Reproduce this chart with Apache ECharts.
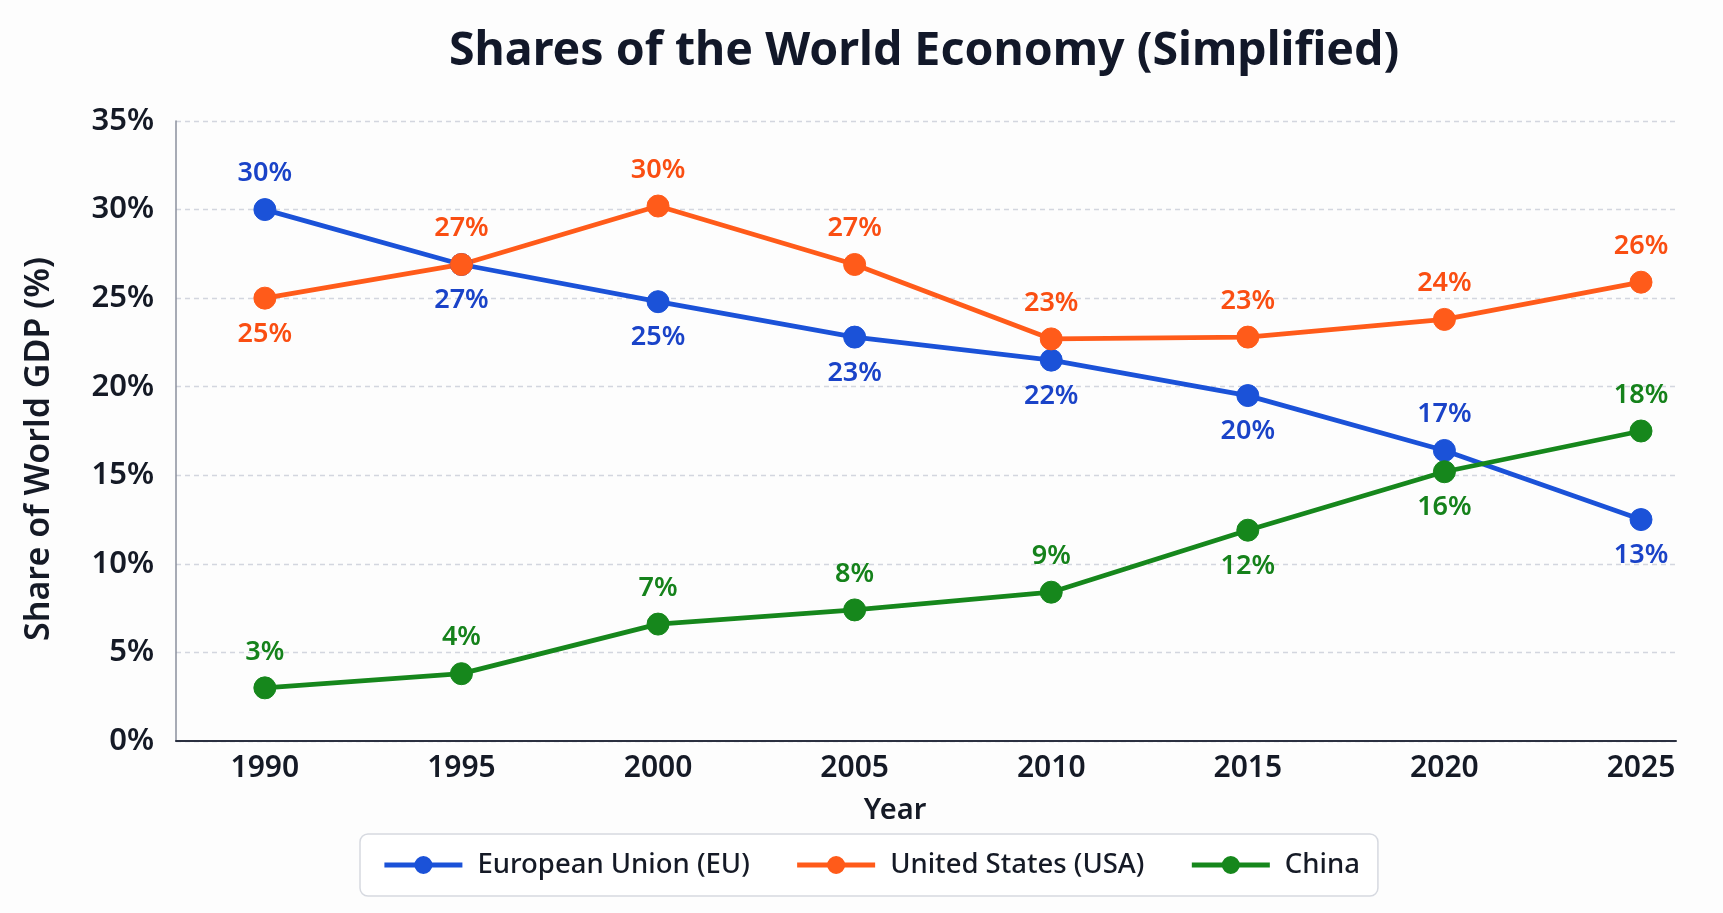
<!DOCTYPE html>
<html>
<head>
<meta charset="utf-8">
<title>Shares of the World Economy</title>
<script src="https://cdn.jsdelivr.net/npm/echarts@6/dist/echarts.min.js"></script>
<style>
  html, body { margin: 0; padding: 0; background: #fdfdfd; }
  #chart { width: 1723px; height: 913px; }
</style>
</head>
<body>
<div id="chart"></div>
<script>
// years on the x axis
const years = [1990, 1995, 2000, 2005, 2010, 2015, 2020, 2025];

// share of world GDP (%)
const euValues = [30.0, 26.9, 24.8, 22.8, 21.5, 19.5, 16.4, 12.5];
const usValues = [25.0, 26.9, 30.2, 26.9, 22.7, 22.8, 23.8, 25.9];
const cnValues = [3.0, 3.8, 6.6, 7.4, 8.4, 11.9, 15.2, 17.5];

// printed labels next to each point
const euLabels = [30, 27, 25, 23, 22, 20, 17, 13];
const usLabels = [25, 27, 30, 27, 23, 23, 24, 26];
const cnLabels = [3, 4, 7, 8, 9, 12, 16, 18];

// where each label sits (above / below the point)
const euPos = ["top", "bottom", "bottom", "bottom", "bottom", "bottom", "top", "bottom"];
const usPos = ["bottom", "top", "top", "top", "top", "top", "top", "top"];
const cnPos = ["top", "top", "top", "top", "top", "bottom", "bottom", "top"];

const yTicks = [0, 5, 10, 15, 20, 25, 30, 35];

const FONT = "'Noto Sans', 'Open Sans', sans-serif";

function buildData(values, labels, pos) {
  return values.map(function (v, i) {
    return {
      value: [years[i], v],
      text: labels[i] + "%",
      label: { position: pos[i] }
    };
  });
}

function makeSeries(name, color, labelColor, values, labels, pos) {
  return {
    name: name,
    type: "line",
    data: buildData(values, labels, pos),
    symbol: "circle",
    symbolSize: 22,
    lineStyle: { width: 4.8, color: color },
    itemStyle: { color: color, borderColor: color, borderWidth: 1 },
    label: {
      show: true,
      distance: 11,
      color: labelColor,
      fontFamily: FONT,
      fontSize: 27,
      fontWeight: 600,
      formatter: function (p) { return p.data.text; }
    },
    emphasis: { disabled: true }
  };
}

const chart = echarts.init(document.getElementById("chart"));

const option = {
  backgroundColor: "#fdfdfd",
  animation: false,
  title: {
    text: "Shares of the World Economy (Simplified)",
    left: 444,
    top: 23,
    textStyle: {
      fontFamily: FONT,
      fontSize: 46.5,
      fontWeight: "bold",
      color: "#121829"
    }
  },
  grid: {
    left: 176,
    right: 47,
    top: 121,
    bottom: 172
  },
  legend: {
    left: 360,
    top: 834,
    padding: [17, 18, 17, 22],
    borderColor: "#d6d9e0",
    borderWidth: 1.5,
    borderRadius: 8,
    backgroundColor: "#ffffff",
    itemWidth: 78,
    itemHeight: 20,
    itemGap: 45,
    lineStyle: { width: 4.8 },
    textStyle: {
      fontFamily: FONT,
      fontSize: 27.5,
      fontWeight: 500,
      color: "#151a26",
      padding: [0, 0, 0, 10]
    },
    data: ["European Union (EU)", "United States (USA)", "China"]
  },
  xAxis: {
    type: "value",
    min: 1987.74,
    max: 2025.89,
    name: "Year",
    nameLocation: "middle",
    nameGap: 55,
    nameTextStyle: {
      fontFamily: FONT,
      fontSize: 29,
      fontWeight: 600,
      color: "#151a26",
      padding: [0, 62, 0, 0]
    },
    axisLine: { show: true, lineStyle: { color: "#2b3040", width: 2 } },
    axisTick: { show: false },
    splitLine: { show: false },
    axisLabel: {
      customValues: years,
      margin: 12,
      fontFamily: FONT,
      fontSize: 30,
      fontWeight: 600,
      color: "#151a26",
      formatter: function (v) { return String(v); }
    }
  },
  yAxis: {
    type: "value",
    min: 0,
    max: 35,
    interval: 5,
    name: "Share of World GDP (%)",
    nameLocation: "middle",
    nameGap: 120,
    nameTextStyle: {
      fontFamily: FONT,
      fontSize: 34,
      fontWeight: 600,
      color: "#151a26",
      padding: [0, 0, 0, -36]
    },
    axisLine: { show: true, lineStyle: { color: "#8a8f9c", width: 1.5 } },
    axisTick: { show: false },
    splitLine: {
      show: true,
      lineStyle: { color: "#d3d6df", type: [5, 4], width: 1.3 }
    },
    axisLabel: {
      margin: 22,
      fontFamily: FONT,
      fontSize: 31,
      fontWeight: 600,
      color: "#151a26",
      formatter: function (v) {
        return yTicks.indexOf(v) >= 0 ? v + "%" : "";
      }
    }
  },
  series: [
    makeSeries("European Union (EU)", "#1b52d8", "#1a43c8", euValues, euLabels, euPos),
    makeSeries("United States (USA)", "#ff5b1a", "#fa4e12", usValues, usLabels, usPos),
    makeSeries("China", "#16871c", "#15821b", cnValues, cnLabels, cnPos)
  ]
};

chart.setOption(option);
</script>
</body>
</html>
